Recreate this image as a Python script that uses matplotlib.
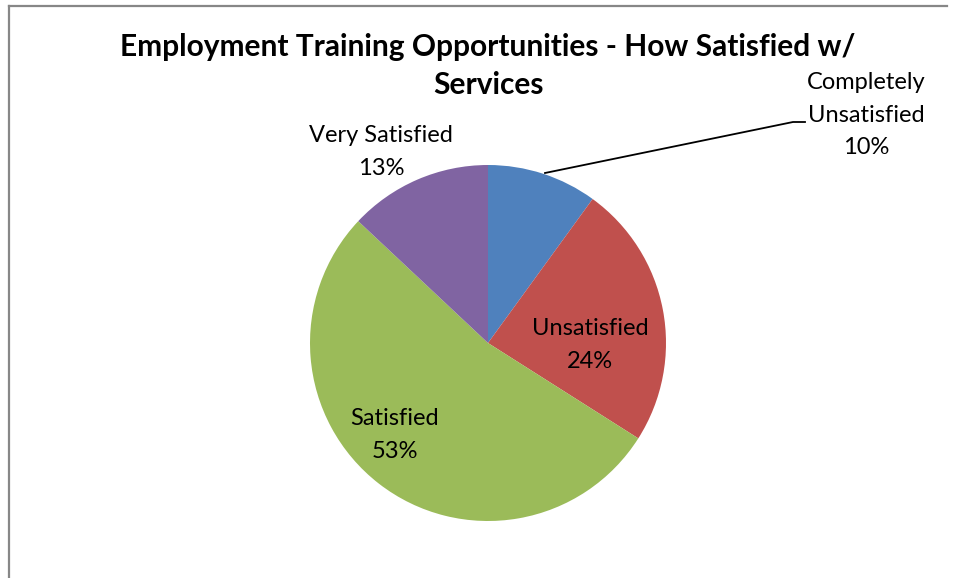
import matplotlib
matplotlib.use("Agg")
import matplotlib.pyplot as plt
from matplotlib.lines import Line2D

categories = ["Completely\nUnsatisfied", "Unsatisfied", "Satisfied", "Very Satisfied"]
values = [10, 24, 53, 13]
colors = ["#4F81BD", "#C0504D", "#9BBB59", "#8064A2"]
title_lines = ["Employment Training Opportunities - How Satisfied w/", "Services"]

W, H = 956, 578
fig = plt.figure(figsize=(W / 100, H / 100), dpi=100)
fig.patch.set_facecolor("white")
ax = fig.add_axes([0, 0, 1, 1])

cx, cy, r = 488, H - 343, 178
wedges, _ = ax.pie(values, colors=colors, startangle=90, counterclock=False,
                   center=(cx, cy), radius=r,
                   wedgeprops=dict(linewidth=0))
ax.set_xlim(0, W)
ax.set_ylim(0, H)
ax.set_aspect("equal")
ax.axis("off")

font = "Lato"
label_pos = [(866, H - 115), (590, H - 345), (395, H - 435), (381, H - 152)]
for cat, v, (lx, ly) in zip(categories, values, label_pos):
    ax.text(lx, ly, f"{cat}\n{v}%", ha="center", va="center", fontsize=17,
            family=font, color="black", linespacing=1.7)

# leader line for first slice
ax.add_line(Line2D([545, 793, 805], [H - 173, H - 122, H - 122], color="black", lw=1.3))

# title, drawn as two centred lines
for line, ypix in zip(title_lines, [47, 85]):
    fig.text(488 / W, 1 - ypix / H, line, ha="center", va="center", fontsize=21.5,
             fontweight="bold", family=font)

# chart frame (partial, as cropped)
fig.add_artist(Line2D([8.5 / W, 8.5 / W], [0, 1 - 5.5 / H], transform=fig.transFigure,
                      color="#878787", lw=1.6))
fig.add_artist(Line2D([8.5 / W, 947 / W], [1 - 5.5 / H, 1 - 5.5 / H], transform=fig.transFigure,
                      color="#878787", lw=1.6))

fig.savefig("out.png", dpi=100, facecolor="white")
